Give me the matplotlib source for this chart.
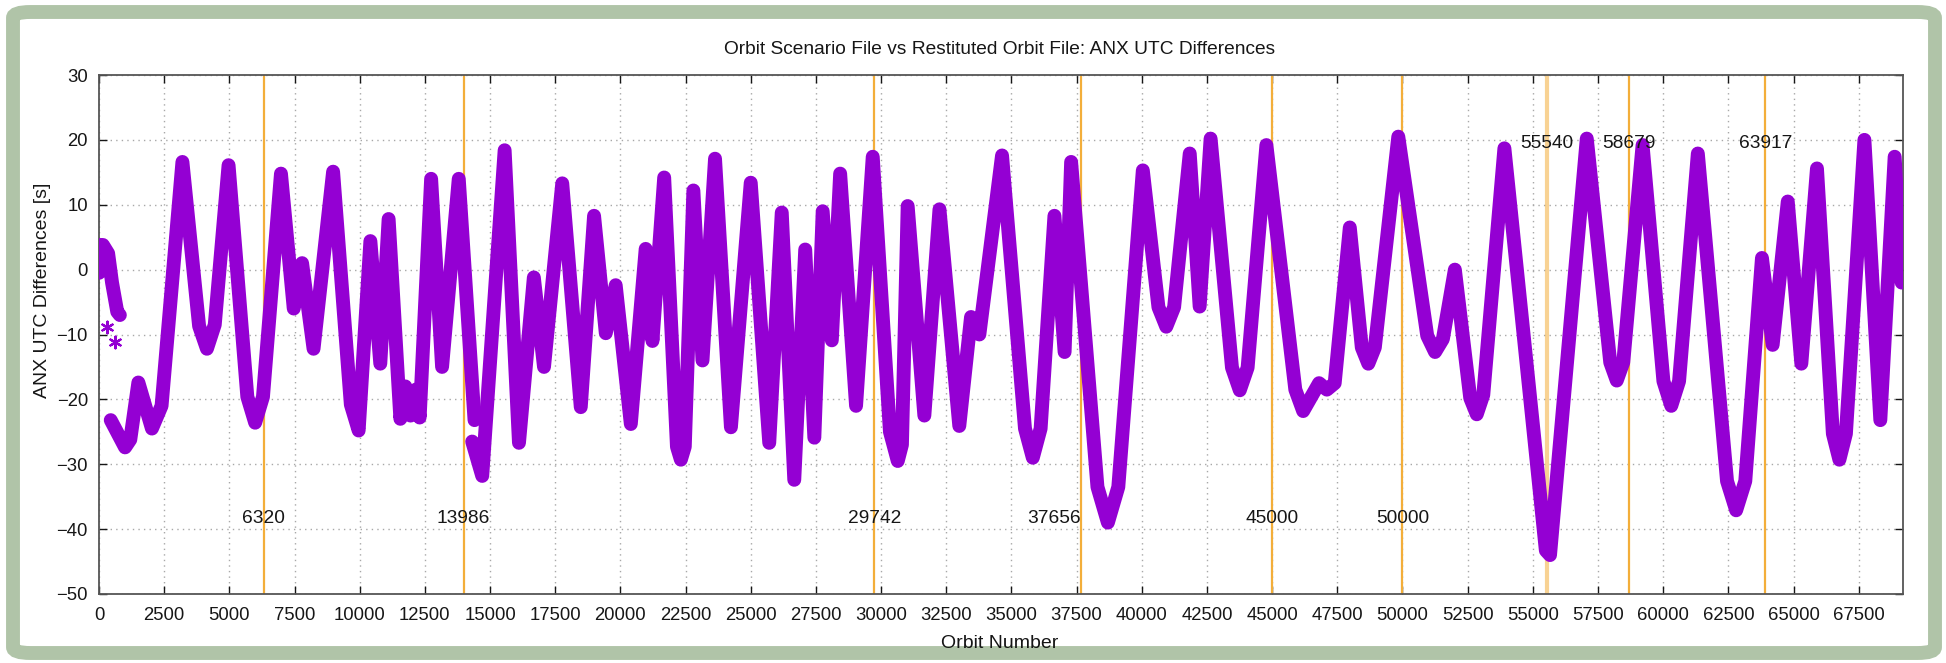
import matplotlib
matplotlib.use("Agg")
import matplotlib.pyplot as plt
import numpy as np
from matplotlib.patches import FancyBboxPatch

plt.rcParams.update({
    "font.family": ["Liberation Sans", "DejaVu Sans"],
    "font.size": 13.5,
})

PURPLE = "#9400d3"
ORANGE = "#f3ae3a"
GRID = "#a8a8a8"
FRAME = "#b0c4a8"
TXT = "#161616"

# --- data (orbit number, ANX UTC difference [s]) ---
seg_a_orbit = [0, 60, 150, 350, 500, 700, 800]
seg_a_diff = [-0.5, 3.8, 3.8, 2.5, -2.0, -6.5, -7.0]

seg_b_orbit = [450, 1000, 1200, 1510, 2030, 2400, 3200, 3840, 4140, 4440,
               4970, 5690, 5990, 6290, 6980, 7470, 7790, 8230, 8980, 9660,
               9960, 10410, 10790, 11110, 11560, 11750, 11950, 12150,
               12300, 12740, 13160, 13800, 14405]
seg_b_diff = [-23.2, -27.4, -26.2, -17.4, -24.5, -21.0, 16.6, -8.7, -12.2, -8.5,
              16.1, -19.6, -23.6, -19.6, 14.8, -6.0, 1.0, -12.2, 15.1, -20.8,
              -24.8, 4.4, -14.5, 7.8, -23.0, -18.0, -22.5, -18.5,
              -22.8, 14.0, -15.0, 14.0, -23.2]

seg_c_orbit = [14315, 14700, 15560, 16110, 16680, 17070, 17770, 18480, 18990,
               19440, 19820, 20400, 20970, 21230, 21680, 22170, 22320, 22470,
               22800, 23150, 23630, 24240, 25000, 25710, 26190, 26670, 27090,
               27440, 27760, 28110, 28430, 29040, 29680, 30340, 30640, 30800,
               31020, 31660, 32240, 33000, 33450, 33770, 34640, 35520, 35820,
               36120, 36650, 37040, 37290, 38300, 38700, 39100, 40040, 40640,
               40940, 41240, 41840, 42220, 42640, 43460, 43760, 44060, 44780,
               45890, 46190, 46800, 47100, 47400, 47980, 48440, 48690, 48940,
               49840, 50950, 51250, 51550, 52010, 52600, 52850, 53100, 53910,
               55500, 55660, 57070, 57970, 58220, 58470, 59210, 60010, 60310,
               60610, 61330, 62450, 62800, 63150, 63790, 64200, 64780, 65300,
               65900, 66510, 66760, 67010, 67720, 68330, 68880, 69150]
seg_c_diff = [-26.5, -31.8, 18.4, -26.7, -1.2, -15.0, 13.3, -21.2, 8.3,
              -9.8, -2.4, -23.8, 3.2, -11.0, 14.2, -27.3, -29.3, -27.3,
              12.2, -14.0, 17.1, -24.3, 13.4, -26.7, 8.8, -32.4, 3.1,
              -25.9, 9.0, -10.9, 14.8, -21.0, 17.4, -25.0, -29.5, -27.0,
              9.8, -22.5, 9.3, -24.1, -7.3, -10.0, 17.6, -24.5, -29.0,
              -24.5, 8.3, -12.7, 16.6, -33.5, -39.0, -33.5, 15.3, -5.8,
              -8.8, -5.8, 17.9, -5.7, 20.2, -15.1, -18.6, -15.1, 19.2,
              -18.5, -21.8, -17.5, -18.5, -17.5, 6.5, -12.0, -14.5, -12.0,
              20.5, -10.2, -12.7, -10.7, 0.0, -19.8, -22.3, -19.3, 18.7,
              -43.3, -44.0, 20.2, -14.3, -17.1, -14.3, 19.2, -17.2, -21.0,
              -17.2, 17.9, -32.6, -37.1, -32.6, 1.8, -11.6, 10.5, -14.5,
              15.6, -25.3, -29.3, -25.3, 20.0, -23.2, 17.4, -2.0]

outlier_orbit = [300, 620]
outlier_diff = [-8.8, -11.1]

marker_orbits = [6320, 13986, 29742, 37656, 45000, 50000, 55540, 58679, 63917]
marker_text_y = [-38.4, -38.4, -38.4, -38.4, -38.4, -38.4, 19.5, 19.5, 19.5]
marker_text_ha = ["center", "center", "center", "right", "center", "center",
                  "center", "center", "center"]

x_ticks = list(range(0, 67501, 2500))
y_ticks = list(range(-50, 31, 10))

W, H = 1946, 663
fig = plt.figure(figsize=(W / 100, H / 100), dpi=100)

# rounded green frame
frame = FancyBboxPatch((13 / W, 1 - 653 / H), (1935 - 13) / W, (653 - 12) / H,
                       boxstyle="round,pad=0,rounding_size=0.009",
                       transform=fig.transFigure, facecolor="none",
                       edgecolor=FRAME, linewidth=10.0, zorder=-1)
fig.patches.append(frame)

ax = fig.add_axes([99 / W, 1 - 594 / H, (1903 - 99) / W, (594 - 75) / H])
ax.set_facecolor("white")

for xo, yt, ha in zip(marker_orbits, marker_text_y, marker_text_ha):
    pale = xo == 55540
    ax.axvline(xo, color=ORANGE, lw=3.0 if pale else 1.6,
               alpha=0.55 if pale else 1.0, zorder=2)
    ax.text(xo, yt, str(xo), ha=ha, va="center", color=TXT, fontsize=13.8,
            zorder=5)

for xs, ys in ((seg_a_orbit, seg_a_diff), (seg_b_orbit, seg_b_diff),
               (seg_c_orbit, seg_c_diff)):
    ax.plot(xs, ys, color=PURPLE, lw=10.0, solid_joinstyle="round",
            solid_capstyle="round", zorder=3)
ax.scatter(outlier_orbit, outlier_diff, marker=(6, 2, 0), s=70,
           color=PURPLE, linewidths=1.6, zorder=3)

ax.set_xlim(0, 69200)
ax.set_ylim(-50, 30)
ax.set_xticks(x_ticks)
ax.set_yticks(y_ticks)
ax.grid(True, color=GRID, linestyle=(0, (1, 3)), linewidth=1.0)
ax.set_axisbelow(True)
ax.tick_params(direction="in", length=6, width=1.0, top=True, right=True,
               colors=TXT, labelsize=13.3)
ax.tick_params(axis="y", pad=8)
ax.tick_params(axis="x", pad=9)
for s in ax.spines.values():
    s.set_color("#555555")
    s.set_linewidth(1.3)

fig.text(1000 / W, 1 - 50 / H,
         "Orbit Scenario File vs Restituted Orbit File: ANX UTC Differences",
         ha="center", va="center", fontsize=13.8, color=TXT)
fig.text(1000 / W, 1 - 644 / H, "Orbit Number", ha="center", va="center",
         fontsize=14, color=TXT)
fig.text(43 / W, 1 - 290 / H, "ANX UTC Differences [s]", ha="center",
         va="center", rotation=90, fontsize=14, color=TXT)

fig.savefig("out.png", dpi=100, facecolor="white")
